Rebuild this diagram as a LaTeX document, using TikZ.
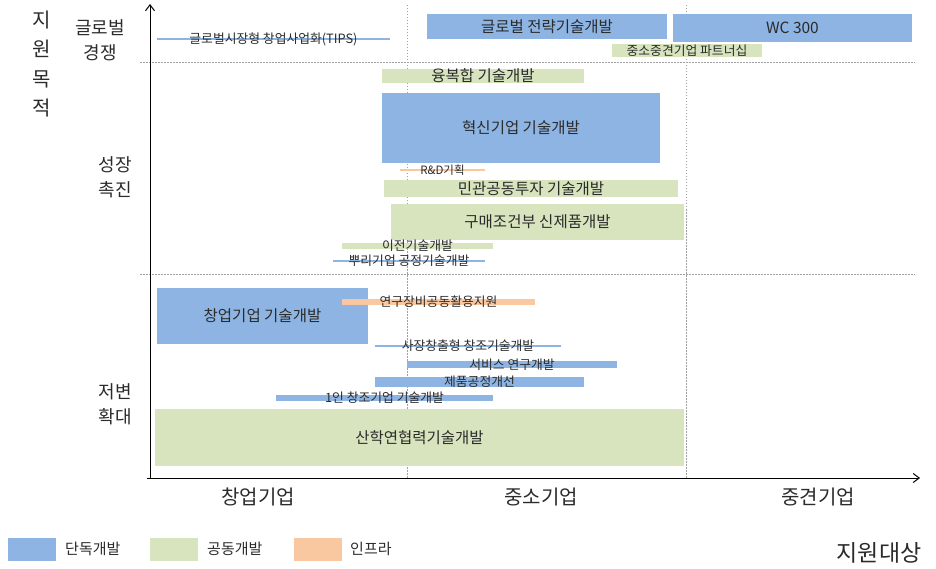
\documentclass[tikz,border=0pt]{standalone}
\usepackage{fontspec}
\setmainfont{Noto Sans CJK KR}
\usetikzlibrary{arrows.meta}
\definecolor{blueF}{HTML}{8DB4E2}
\definecolor{greenF}{HTML}{D7E4BD}
\definecolor{orangeF}{HTML}{FAC8A0}
\definecolor{txt}{HTML}{2B2B2B}
\definecolor{gridc}{HTML}{A0A0A0}
\begin{document}
\begin{tikzpicture}[x=1pt,y=-1pt,
  bx/.style 2 args={inner sep=0pt, outer sep=0pt, minimum width=#1pt, minimum height=#2pt, text=txt, font=\fontsize{15.5}{17}\selectfont},
  lbl/.style={inner sep=0pt, text=txt, font=\fontsize{12.8}{14}\selectfont},
  cat/.style={inner sep=0pt, text=txt, font=\fontsize{20}{22}\selectfont},
  side/.style={inner sep=0pt, text=txt, align=center, font=\fontsize{18}{25}\selectfont},
  axis/.style={line width=1pt, black, -{Straight Barb[length=6pt,width=9pt]}},
  gridl/.style={gridc, line width=0.9pt, dash pattern=on 1.5pt off 1.5pt},
  legbox/.style={inner sep=0pt, minimum width=48pt, minimum height=23pt},
  leglbl/.style={inner sep=0pt, anchor=west, text=txt, font=\fontsize{15}{17}\selectfont}]
\useasboundingbox (0,0) rectangle (936,569);
% grid
\coordinate (v1t) at (407,5); \coordinate (v1b) at (407,478);
\coordinate (v2t) at (686,5); \coordinate (v2b) at (686,478);
\coordinate (h1l) at (140,62); \coordinate (h1r) at (915,62);
\coordinate (h2l) at (140,274); \coordinate (h2r) at (915,274);
\draw[gridl] (v1t) -- (v1b);
\draw[gridl] (v2t) -- (v2b);
\draw[gridl] (h1l) -- (h1r);
\draw[gridl] (h2l) -- (h2r);
% top band
\node[bx={233}{2.5}, fill=blueF] (tipsbar) at (273.5,39) {};
\node[lbl] (tips) at (tipsbar) {글로벌시장형 창업사업화(TIPS)};
\node[bx={240}{25}, fill=blueF] (gsd) at (547,26.5) {글로벌 전략기술개발};
\node[bx={239}{28}, fill=blueF] (wc) at (792.5,28) {WC 300};
\node[bx={150}{13}, fill=greenF, font=\fontsize{12.8}{14}\selectfont] (ptn) at (687,51) {중소중견기업 파트너십};
% middle band
\node[bx={202}{14}, fill=greenF] (ybh) at (483,76) {융복합 기술개발};
\node[bx={278}{70}, fill=blueF] (hsg) at (521,128) {혁신기업 기술개발};
\node[bx={85}{1.5}, fill=orangeF] (rdbar) at (442.5,170) {};
\node[lbl, font=\fontsize{11.5}{13}\selectfont] (rd) at (rdbar) {R\&D기획};
\node[bx={294}{17}, fill=greenF] (mg) at (531,188.5) {민관공동투자 기술개발};
\node[bx={293}{36}, fill=greenF] (gm) at (537.5,222) {구매조건부 신제품개발};
\node[bx={151}{6}, fill=greenF] (ijbar) at (417.5,246) {};
\node[lbl] (ij) at (ijbar) {이전기술개발};
\node[bx={152}{2}, fill=blueF] (bribar) at (409,260.5) {};
\node[lbl] (bri) at (bribar) {뿌리기업 공정기술개발};
% bottom band
\node[bx={211}{56}, fill=blueF] (cug) at (262.5,316) {창업기업 기술개발};
\node[bx={193}{6}, fill=orangeF] (ygbar) at (438.5,301.5) {};
\node[lbl] (yg) at (ygbar) {연구장비공동활용지원};
\node[bx={186}{2}, fill=blueF] (sjbar) at (468,346) {};
\node[lbl] (sj) at (sjbar) {사장창출형 창조기술개발};
\node[bx={210}{7}, fill=blueF] (svbar) at (512,364.5) {};
\node[lbl] (sv) at (svbar) {서비스 연구개발};
\node[bx={209}{10}, fill=blueF] (jpbar) at (479.5,382) {};
\node[lbl] (jp) at (jpbar) {제품공정개선};
\node[bx={217}{6}, fill=blueF] (oibar) at (384.5,397.5) {};
\node[lbl] (oi) at (oibar) {1인 창조기업 기술개발};
\node[bx={529}{57}, fill=greenF] (shy) at (419.5,437.5) {산학연협력기술개발};
% axes
\coordinate (O) at (150,478);
\coordinate (ytop) at (150,4);
\coordinate (xs) at (147,478);
\coordinate (xend) at (920,478);
\draw[axis] (O) -- (ytop);
\draw[axis] (xs) -- (xend);
% axis labels
\node[side, font=\fontsize{20}{29.5}\selectfont] (goal) at (42,64) {지\\원\\목\\적};
\node[side] (glob) at (100,40.5) {글로벌\\경쟁};
\node[side] (grow) at (115,177) {성장\\촉진};
\node[side] (base) at (115,404.5) {저변\\확대};
\node[cat] (c1) at (258,497) {창업기업};
\node[cat] (c2) at (541,497) {중소기업};
\node[cat] (c3) at (818,497) {중견기업};
\node[cat, font=\fontsize{23}{26}\selectfont] (target) at (879,553) {지원대상};
% legend
\node[legbox, fill=blueF] (lb1) at (32,549) {};
\node[leglbl] (lt1) at (65,549) {단독개발};
\node[legbox, fill=greenF] (lb2) at (174,549) {};
\node[leglbl] (lt2) at (207,549) {공동개발};
\node[legbox, fill=orangeF] (lb3) at (318,549) {};
\node[leglbl] (lt3) at (350,549) {인프라};
\end{tikzpicture}
\end{document}
